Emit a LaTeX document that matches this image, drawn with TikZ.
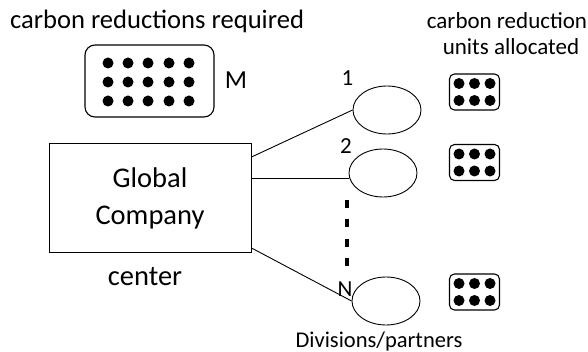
\documentclass[tikz,border=0pt]{standalone}
\usepackage{fontspec}
\setmainfont{Carlito}
\usetikzlibrary{shapes.geometric}
\begin{document}
\begin{tikzpicture}[x=1pt,y=-1pt,
  lbl/.style={inner sep=0pt},
  div/.style={draw,ellipse,minimum width=68pt,minimum height=48pt,inner sep=0pt,line width=0.9pt},
  dot/.style={fill=black,circle,minimum size=11pt,inner sep=0pt},
  unitbox/.style={draw,rounded corners=5pt,line width=1.1pt,minimum width=50pt,minimum height=36pt,inner sep=0pt},
  link/.style={line width=0.9pt}]
\useasboundingbox (0,0) rectangle (588,352);
\node[lbl,font=\fontsize{26.6}{30}\selectfont,anchor=base] (title) at (157,29) {carbon reductions required};
\node[draw,rounded corners=10pt,line width=1.1pt,minimum width=129pt,minimum height=72pt] (big) at (149.5,81) {};
\foreach \x [count=\i] in {108,128,148,169,189}{
  \foreach \y [count=\j] in {63,82,101}{
    \node[dot] (b\i\j) at (\x,\y) {};
  }
}
\node[lbl,font=\fontsize{26}{30}\selectfont,anchor=base] (M) at (236,89) {M};
\node[draw,line width=1pt,minimum width=202pt,minimum height=109pt,align=center,font=\fontsize{28.5}{37}\selectfont] (gc) at (150,198.5) {Global\\Company};
\node[lbl,font=\fontsize{28.5}{32}\selectfont,anchor=base] (center) at (145,285) {center};
\node[div] (d1) at (387,110) {};
\node[div] (d2) at (383,173) {};
\node[div] (dN) at (386,301) {};
\node[lbl,font=\fontsize{23}{26}\selectfont,anchor=base] (l1) at (347.5,85.5) {1};
\node[lbl,font=\fontsize{23}{26}\selectfont,anchor=base] (l2) at (346,153.5) {2};
\node[lbl,font=\fontsize{23}{26}\selectfont,anchor=base] (lN) at (345,296) {N};
\coordinate (s1) at (gc.east |- 0,157);
\coordinate (s2) at (gc.east |- 0,178);
\coordinate (s3) at (gc.east |- 0,248);
\coordinate (e2) at (d2.west |- 0,178);
\draw[link] (s1) -- (d1.west);
\draw[link] (s2) -- (e2);
\draw[link] (s3) -- (dN.west);
\coordinate (dt) at (347,200);
\coordinate (db) at (347,266);
\draw[line width=3.2pt,dash pattern=on 8pt off 11.5pt] (dt) -- (db);
\node[lbl,font=\fontsize{23}{26}\selectfont,anchor=base] (r1) at (507,29) {carbon reduction};
\node[lbl,font=\fontsize{23}{26}\selectfont,anchor=base] (r2) at (511,55) {units allocated};
\foreach \cy [count=\k] in {92,162.5,292}{
  \node[unitbox] (u\k) at (474.5,\cy) {};
  \foreach \dx in {-15.5,0,15.5}{
    \foreach \dy in {-8.5,8.5}{
      \node[dot] at (474.5+\dx,\cy+\dy) {};
    }
  }
}
\node[lbl,font=\fontsize{22.5}{25}\selectfont,anchor=base] (divs) at (379,347) {Divisions/partners};
\end{tikzpicture}
\end{document}
